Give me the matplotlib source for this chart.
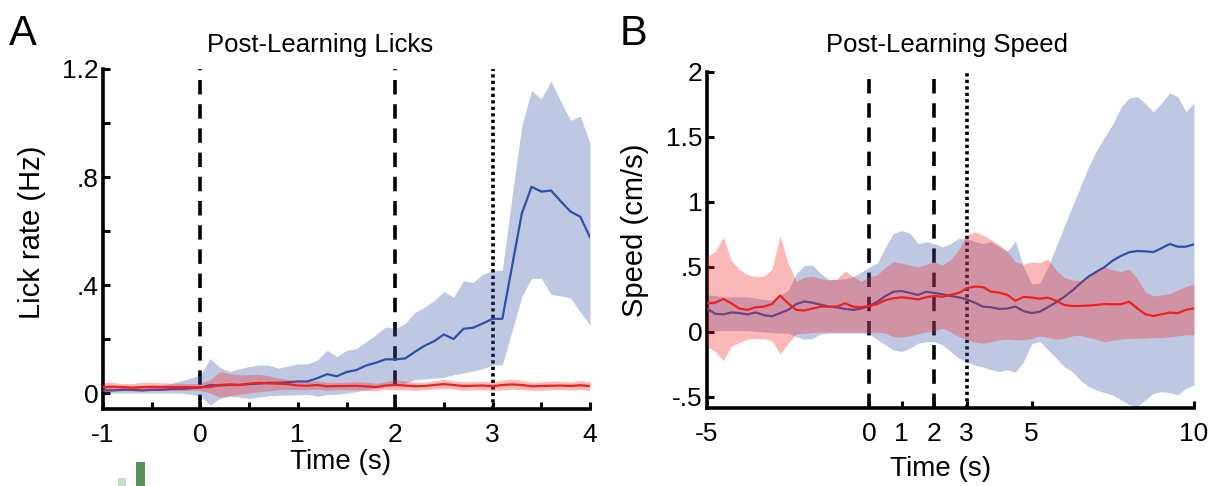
import matplotlib
matplotlib.use('Agg')
import matplotlib.pyplot as plt
import numpy as np

plt.rcParams['font.family'] = ['Liberation Sans', 'DejaVu Sans']

# ---- Panel A: licks (0.1 s bins, -1 .. 4 s) ----
lick_t = np.round(np.arange(-1.0, 4.0001, 0.1), 2)
lick_blue = [0.01, 0.01, 0.012, 0.012, 0.01, 0.012, 0.012, 0.015, 0.015, 0.018,
             0.02, 0.03, 0.028, 0.03, 0.03, 0.033, 0.035, 0.038, 0.038, 0.04,
             0.043, 0.043, 0.055, 0.07, 0.062, 0.078, 0.085, 0.102, 0.112, 0.125,
             0.125, 0.128, 0.152, 0.175, 0.192, 0.217, 0.2, 0.238, 0.242, 0.258,
             0.275, 0.275, 0.47, 0.665, 0.764, 0.746, 0.75, 0.71, 0.672, 0.653,
             0.577]
lick_blue_hi = [0.025, 0.025, 0.025, 0.025, 0.028, 0.03, 0.03, 0.035, 0.045, 0.055,
                0.067, 0.128, 0.095, 0.08, 0.09, 0.098, 0.104, 0.104, 0.092, 0.1,
                0.108, 0.108, 0.122, 0.159, 0.135, 0.159, 0.165, 0.19, 0.215, 0.245,
                0.24, 0.257, 0.298, 0.318, 0.343, 0.376, 0.355, 0.416, 0.41, 0.44,
                0.453, 0.456, 0.73, 0.99, 1.12, 1.09, 1.155, 1.08, 1.01, 1.026,
                0.925]
lick_blue_lo = [0.0, 0.0, 0.0, 0.0, 0.0, 0.0, 0.0, 0.0, 0.0, -0.005,
                -0.01, -0.045, -0.02, -0.012, -0.015, -0.02, -0.015, -0.01, -0.008, -0.008,
                -0.006, -0.005, -0.012, -0.005, -0.005, 0.0, 0.005, 0.012, 0.018, 0.025,
                0.03, 0.035, 0.05, 0.052, 0.055, 0.058, 0.068, 0.074, 0.082, 0.09,
                0.104, 0.104, 0.23, 0.357, 0.425, 0.425, 0.365, 0.36, 0.352, 0.3,
                0.252]
lick_red = [0.022, 0.024, 0.022, 0.02, 0.022, 0.023, 0.022, 0.022, 0.022, 0.022,
            0.022, 0.022, 0.03, 0.032, 0.03, 0.035, 0.038, 0.036, 0.035, 0.033,
            0.028, 0.027, 0.03, 0.025, 0.026, 0.026, 0.027, 0.025, 0.022, 0.028,
            0.03, 0.028, 0.025, 0.026, 0.03, 0.033, 0.03, 0.026, 0.027, 0.028,
            0.025, 0.03, 0.032, 0.03, 0.025, 0.026, 0.027, 0.028, 0.026, 0.029,
            0.026]
lick_red_hi = [0.04, 0.04, 0.035, 0.035, 0.04, 0.04, 0.038, 0.037, 0.037, 0.035,
               0.035, 0.05, 0.08, 0.072, 0.068, 0.068, 0.07, 0.064, 0.056, 0.05,
               0.046, 0.042, 0.045, 0.04, 0.04, 0.04, 0.042, 0.04, 0.036, 0.042,
               0.05, 0.045, 0.04, 0.04, 0.045, 0.05, 0.045, 0.042, 0.042, 0.044,
               0.04, 0.048, 0.052, 0.047, 0.04, 0.042, 0.044, 0.043, 0.04, 0.046,
               0.042]
lick_red_lo = [0.005, 0.008, 0.01, 0.008, 0.008, 0.01, 0.01, 0.01, 0.01, 0.01,
               0.01, 0.0, -0.015, -0.01, -0.005, 0.0, 0.005, 0.008, 0.012, 0.014,
               0.012, 0.012, 0.015, 0.01, 0.012, 0.012, 0.012, 0.01, 0.008, 0.014,
               0.012, 0.012, 0.01, 0.012, 0.015, 0.016, 0.015, 0.01, 0.012, 0.012,
               0.01, 0.012, 0.014, 0.013, 0.01, 0.01, 0.012, 0.013, 0.011, 0.013,
               0.01]

# ---- Panel B: speed (0.25 s steps, -5 .. 10 s) ----
spd_t = np.arange(-5.0, 10.0001, 0.25)
spd_blue = [0.18, 0.14, 0.135, 0.15, 0.145, 0.135, 0.15, 0.13, 0.12, 0.145,
            0.17, 0.215, 0.235, 0.225, 0.21, 0.195, 0.19, 0.177, 0.17, 0.18,
            0.2, 0.233, 0.277, 0.31, 0.315, 0.3, 0.285, 0.31, 0.3, 0.29,
            0.277, 0.267, 0.25, 0.225, 0.195, 0.19, 0.177, 0.18, 0.195, 0.16,
            0.145, 0.156, 0.19, 0.228, 0.27, 0.318, 0.374, 0.426, 0.464, 0.5,
            0.55, 0.585, 0.613, 0.623, 0.62, 0.615, 0.644, 0.677, 0.656, 0.656,
            0.674]
spd_blue_hi = [0.285, 0.28, 0.27, 0.27, 0.27, 0.27, 0.26, 0.25, 0.245, 0.28,
               0.32, 0.45, 0.51, 0.515, 0.45, 0.405, 0.405, 0.41, 0.425, 0.46,
               0.5, 0.53, 0.655, 0.76, 0.78, 0.76, 0.68, 0.695, 0.68, 0.655,
               0.68, 0.72, 0.72, 0.695, 0.68, 0.695, 0.655, 0.62, 0.7, 0.5,
               0.37, 0.374, 0.5, 0.656, 0.81, 0.964, 1.118, 1.27, 1.4, 1.5,
               1.6, 1.73, 1.8, 1.81, 1.76, 1.695, 1.76, 1.84, 1.81, 1.695,
               1.76]
spd_blue_lo = [0.01, 0.01, 0.01, 0.01, 0.01, 0.01, 0.005, 0.0, -0.005, -0.01,
               -0.01, -0.036, -0.056, -0.05, -0.015, -0.01, -0.01, -0.01, -0.01, -0.01,
               -0.015, -0.06, -0.1, -0.14, -0.15, -0.125, -0.087, -0.075, -0.075, -0.1,
               -0.15, -0.2, -0.23, -0.255, -0.27, -0.29, -0.305, -0.29, -0.31, -0.23,
               -0.09, -0.074, -0.138, -0.2, -0.267, -0.305, -0.37, -0.42, -0.446, -0.467,
               -0.485, -0.523, -0.56, -0.574, -0.523, -0.472, -0.459, -0.467, -0.485, -0.433,
               -0.408]
spd_red = [0.22, 0.225, 0.254, 0.22, 0.18, 0.17, 0.19, 0.195, 0.215, 0.28,
           0.22, 0.17, 0.165, 0.18, 0.195, 0.195, 0.195, 0.22, 0.195, 0.19,
           0.2, 0.215, 0.245, 0.26, 0.267, 0.26, 0.25, 0.267, 0.277, 0.27,
           0.285, 0.3, 0.335, 0.35, 0.345, 0.31, 0.303, 0.285, 0.24, 0.27,
           0.265, 0.256, 0.264, 0.24, 0.208, 0.2, 0.2, 0.203, 0.208, 0.215,
           0.213, 0.213, 0.233, 0.182, 0.136, 0.123, 0.136, 0.149, 0.144, 0.17,
           0.182]
spd_red_hi = [0.58, 0.62, 0.73, 0.55, 0.48, 0.44, 0.425, 0.43, 0.48, 0.74,
              0.53, 0.39, 0.42, 0.43, 0.41, 0.4, 0.405, 0.47, 0.425, 0.39,
              0.425, 0.44, 0.5, 0.54, 0.53, 0.515, 0.5, 0.52, 0.54, 0.515,
              0.555, 0.63, 0.745, 0.77, 0.745, 0.71, 0.67, 0.62, 0.54, 0.52,
              0.54, 0.533, 0.56, 0.477, 0.42, 0.4, 0.395, 0.426, 0.47, 0.5,
              0.477, 0.464, 0.485, 0.413, 0.31, 0.277, 0.285, 0.297, 0.323, 0.349,
              0.37]
spd_red_lo = [-0.11, -0.15, -0.22, -0.11, -0.08, -0.056, -0.05, -0.05, -0.067, -0.17,
              -0.087, -0.015, -0.01, -0.005, 0.0, 0.0, 0.0, 0.0, 0.0, 0.0,
              -0.005, 0.0, -0.01, -0.036, -0.04, -0.03, -0.015, 0.0, 0.01, 0.028,
              0.0, -0.036, -0.06, -0.08, -0.087, -0.075, -0.06, -0.056, -0.06, -0.06,
              -0.05, -0.03, -0.043, -0.056, -0.05, -0.03, -0.025, -0.043, -0.056, -0.076,
              -0.064, -0.056, -0.05, -0.048, -0.048, -0.043, -0.043, -0.038, -0.03, -0.023,
              -0.023]

# partial bars from the panel below (cropped at bottom edge)
stub_vals = [0.33, 1.0]

BLUE = '#3f5aaa'
BLUE_LINE = '#3050a8'
RED = '#f02828'
RED_LINE = '#ee2020'

fig = plt.figure(figsize=(12.15, 4.86), dpi=100)
axA = fig.add_axes([103 / 1215, 77 / 486, 487 / 1215, 340 / 486])
axB = fig.add_axes([707 / 1215, 78 / 486, 487 / 1215, 336 / 486])


def style_axes(ax):
    for s in ['top', 'right']:
        ax.spines[s].set_visible(False)
    for s in ['left', 'bottom']:
        ax.spines[s].set_linewidth(2.6)
    ax.tick_params(direction='in', length=5, width=2.2, labelsize=19)
    ax.tick_params(axis='x', pad=10)
    ax.tick_params(axis='y', pad=3)


def draw(ax, t, bm, bh, bl, rm, rh, rl, dashed, dotted):
    for x in dashed:
        ax.axvline(x, color='black', lw=2.6, ls=(0, (4, 2.7)), zorder=1)
    for x in dotted:
        ax.axvline(x, color='black', lw=2.6, ls=(0, (0.9, 0.9)), zorder=1)
    ax.fill_between(t, bl, bh, color=BLUE, alpha=0.33, lw=0, zorder=2)
    ax.plot(t, bm, color=BLUE_LINE, lw=1.6, zorder=3)
    ax.fill_between(t, rl, rh, color=RED, alpha=0.33, lw=0, zorder=4)
    ax.plot(t, rm, color=RED_LINE, lw=1.6, zorder=5)


# Panel A
draw(axA, lick_t, lick_blue, lick_blue_hi, lick_blue_lo,
     lick_red, lick_red_hi, lick_red_lo, [0, 2], [3])
style_axes(axA)
axA.set_xlim(-1, 4)
axA.set_ylim(-0.059, 1.2)
axA.set_xticks(np.arange(-1, 4.01, 0.5))
axA.set_xticklabels(['-1', '', '0', '', '1', '', '2', '', '3', '', '4'])
axA.set_yticks([0, 0.2, 0.4, 0.6, 0.8, 1.0, 1.2])
axA.set_yticklabels(['0', '', '.4', '', '.8', '', '1.2'])
axA.set_ylabel('Lick rate (Hz)', fontsize=21)
axA.yaxis.set_label_coords(-0.118, 0.52)
axA.set_xlabel('Time (s)', fontsize=20)
axA.xaxis.set_label_coords(0.487, -0.118)

# Panel B
draw(axB, spd_t, spd_blue, spd_blue_hi, spd_blue_lo,
     spd_red, spd_red_hi, spd_red_lo, [0, 2], [3])
style_axes(axB)
axB.set_xlim(-5, 10)
axB.set_ylim(-0.585, 2.0)
axB.set_xticks([-5, 0, 1, 2, 3, 5, 10])
axB.set_xticklabels(['-5', '0', '1', '2', '3', '5', '10'])
axB.set_yticks([-0.5, 0, 0.5, 1, 1.5, 2])
axB.set_yticklabels(['-.5', '0', '.5', '1', '1.5', '2'])
axB.set_ylabel('Speed (cm/s)', fontsize=21)
axB.yaxis.set_label_coords(-0.12, 0.53)
axB.set_xlabel('Time (s)', fontsize=20)
axB.xaxis.set_label_coords(0.48, -0.143)

# titles and panel letters
fig.text(320 / 1215, 1 - 45 / 486, 'Post-Learning Licks', fontsize=18.5,
         ha='center', va='center')
fig.text(947 / 1215, 1 - 45 / 486, 'Post-Learning Speed', fontsize=18.5,
         ha='center', va='center')
fig.text(9 / 1215, 1 - 14 / 486, 'A', fontsize=30, ha='left', va='top')
fig.text(620 / 1215, 1 - 14 / 486, 'B', fontsize=30, ha='left', va='top')

# cropped bars peeking in at the bottom
axS = fig.add_axes([115 / 1215, 0, 35 / 1215, 25 / 486])
axS.bar([0, 1], stub_vals, width=0.46, color=['#c8dcc8', '#5b8f5b'])
axS.set_xlim(-0.377, 1.51)
axS.set_ylim(0, 1.04)
axS.axis('off')

fig.savefig('out.png', dpi=100)
